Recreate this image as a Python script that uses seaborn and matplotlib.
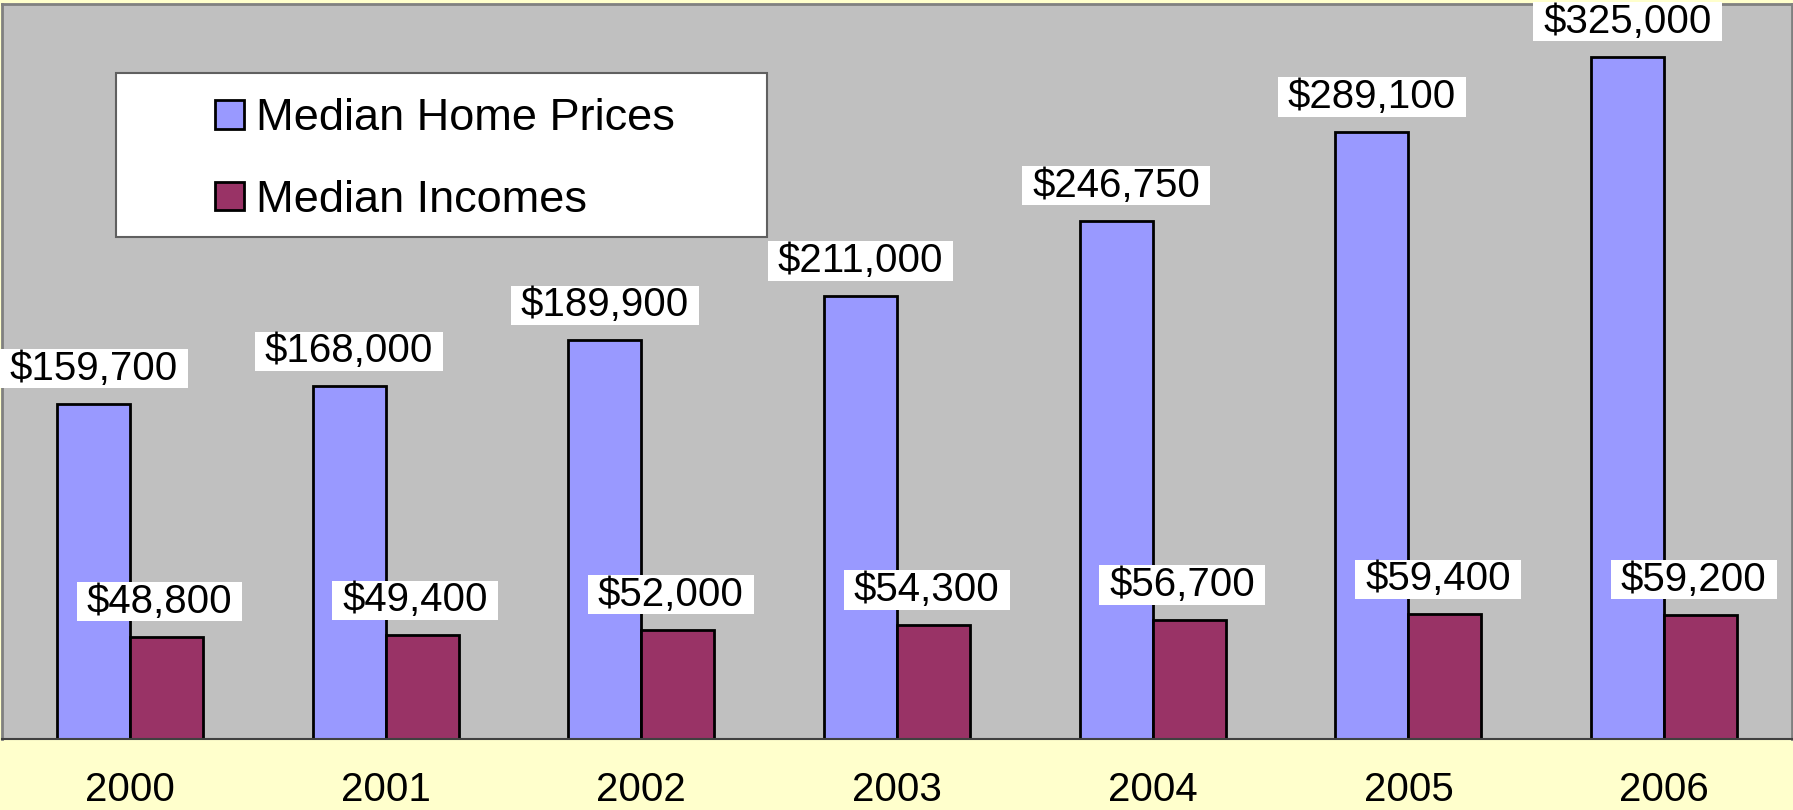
import numpy as np
import pandas as pd
import seaborn as sns
import matplotlib.pyplot as plt
from matplotlib.patches import Rectangle, Patch

years = ["2000", "2001", "2002", "2003", "2004", "2005", "2006"]
home_prices = [159700, 168000, 189900, 211000, 246750, 289100, 325000]
incomes = [48800, 49400, 52000, 54300, 56700, 59400, 59200]
series_names = ["Median Home Prices", "Median Incomes"]
colors = ["#9999FF", "#993366"]

df = pd.DataFrame({
    "year": years * 2,
    "value": home_prices + incomes,
    "series": [series_names[0]] * 7 + [series_names[1]] * 7,
})

sns.set_style("white")
plt.rcParams["font.family"] = ["Liberation Sans", "DejaVu Sans"]
plt.rcParams["text.color"] = "black"
plt.rcParams["xtick.color"] = "black"

fig = plt.figure(figsize=(17.93, 8.10), dpi=100, facecolor="#FFFFCC")
ax = fig.add_axes([2 / 1793, 71 / 810, 1790 / 1793, 735 / 810])
ax.set_facecolor("#C0C0C0")

sns.barplot(data=df, x="year", y="value", hue="series", palette=colors,
            saturation=1, width=0.571, edgecolor="black", linewidth=2,
            legend=False, ax=ax)

ax.set_ylim(0, 350000)
ax.set_xlim(-0.5, 6.5)
ax.set_xlabel("")
ax.set_ylabel("")
ax.set_yticks([])

# tick marks between categories, labels at centres
ax.set_xticks(np.arange(-0.5, 7, 1))
ax.set_xticklabels([])
ax.tick_params(axis="x", which="major", direction="out", length=8, width=1.2, color="#606060")
ax.set_xticks(np.arange(7), minor=True)
ax.set_xticklabels(years, minor=True, fontsize=29)
ax.tick_params(axis="x", which="minor", length=0, pad=23, labelcolor="black")

for side in ["left", "top", "right"]:
    ax.spines[side].set_color("#808080")
    ax.spines[side].set_linewidth(2)
ax.spines["bottom"].set_color("#404040")
ax.spines["bottom"].set_linewidth(1.5)

box = dict(boxstyle="square,pad=0.25", facecolor="white", edgecolor="none",
           mutation_aspect=0.06)
shifts = [0, -5]
for cont, vals, dx in zip(ax.containers, [home_prices, incomes], shifts):
    texts = ax.bar_label(cont, labels=[f"${v:,}" for v in vals], padding=11.5,
                         fontsize=29, bbox=box, color="black")
    for t in texts:
        x, y = t.xyann
        t.xyann = (x + dx, y)

# legend box
ax.add_patch(Rectangle((0.0637, 0.683), 0.3637, 0.223, transform=ax.transAxes,
                       facecolor="white", edgecolor="#606060", linewidth=1.5, zorder=4))
handles = [Patch(facecolor=c, edgecolor="black", linewidth=2) for c in colors]
leg = ax.legend(handles, series_names, loc="center", bbox_to_anchor=(0.2474, 0.7885),
                frameon=False, fontsize=32.5, handlelength=0.65, handleheight=0.6,
                handletextpad=0.25, labelspacing=0.9)
leg.set_zorder(5)
for t in leg.get_texts():
    t.set_color("black")

fig.savefig("out.png", dpi=100, facecolor=fig.get_facecolor())
